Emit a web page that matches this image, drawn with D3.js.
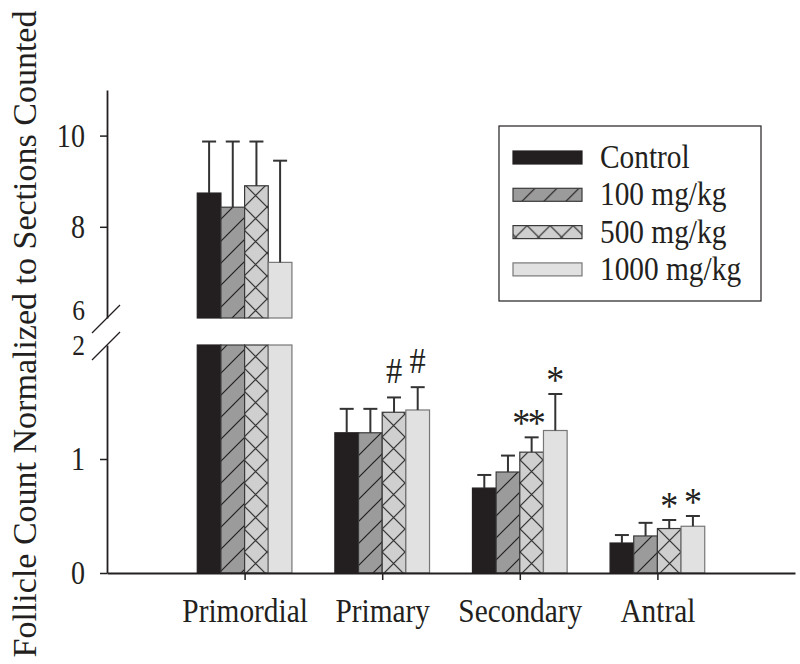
<!DOCTYPE html>
<html>
<head>
<meta charset="utf-8">
<script src="https://cdn.jsdelivr.net/npm/d3@7"></script>
<style>
  body { margin: 0; background: #fff; }
  svg text { font-family: "Liberation Serif", "Times New Roman", serif; fill: #231f20; }
</style>
</head>
<body>
<div id="chart"></div>
<script>
// follicle counts
const categories = ["Primordial", "Primary", "Secondary", "Antral"];
const seriesNames = ["Control", "100 mg/kg", "500 mg/kg", "1000 mg/kg"];
const control = [8.74, 1.23, 0.745, 0.263];
const dose100 = [8.43, 1.23, 0.886, 0.325];
const dose500 = [8.9, 1.41, 1.06, 0.39];
const dose1000 = [7.22, 1.43, 1.25, 0.41];
const controlErr = [1.13, 0.21, 0.115, 0.07];
const dose100Err = [1.44, 0.21, 0.144, 0.115];
const dose500Err = [0.97, 0.13, 0.13, 0.075];
const dose1000Err = [2.23, 0.2, 0.32, 0.09];
const lowTicks = [0, 1, 2];
const highTicks = [6, 8, 10];
// significance marks: [category index, series index, symbol]
const marks = [[1, 2, "#"], [1, 3, "#"], [2, 2, "**"], [2, 3, "*"], [3, 2, "*"], [3, 3, "*"]];

const values = [control, dose100, dose500, dose1000];
const errors = [controlErr, dose100Err, dose500Err, dose1000Err];

const width = 800, height = 664;
const svg = d3.select("#chart").append("svg")
  .attr("width", width)
  .attr("height", height);

const x = d3.scaleLinear().domain([0, 5]).range([107, 795]);
const yLow = d3.scaleLinear().domain([0, 2]).range([573, 345]);
const yHigh = d3.scaleLinear().domain([6, 11]).range([318, 90]);
const barW = x(0.172) - x(0);
const ink = "#231f20";

// patterns
const defs = svg.append("defs");
const p100 = defs.append("pattern")
  .attr("id", "hatch100")
  .attr("patternUnits", "userSpaceOnUse")
  .attr("width", 22).attr("height", 22);
p100.append("rect").attr("width", 22).attr("height", 22).attr("fill", "#9b9b9b");
p100.append("path")
  .attr("d", "M-2,24 L24,-2 M-13,13 L13,-13 M9,35 L35,9")
  .attr("stroke", ink).attr("stroke-width", 1.2);

const p500 = defs.append("pattern")
  .attr("id", "hatch500")
  .attr("patternUnits", "userSpaceOnUse")
  .attr("width", 23).attr("height", 23)
  .attr("x", x(1) - 0.5);
p500.append("rect").attr("width", 23).attr("height", 23).attr("fill", "#cfcfcf");
p500.append("path")
  .attr("d", "M0,0 L23,23 M23,0 L0,23")
  .attr("stroke", "#2a2a2a").attr("stroke-width", 1.2);

const fills = [ink, "url(#hatch100)", "url(#hatch500)", "#e1e1e1"];
const strokes = [ink, "#3a3a3a", "#3a3a3a", "#777"];

// bars
const bars = [];
values.forEach((vals, s) => {
  vals.forEach((v, c) => {
    bars.push({ s: s, c: c, v: v, e: errors[s][c] });
  });
});

const barX = d => x(d.c + 1) + (d.s - 2) * barW;

const gBars = svg.append("g");

// lower segment (0-2)
gBars.selectAll(".barLow")
  .data(bars)
  .enter()
  .append("rect")
  .attr("class", "barLow")
  .attr("x", barX)
  .attr("width", barW)
  .attr("y", d => yLow(Math.min(d.v, 2)))
  .attr("height", d => yLow(0) - yLow(Math.min(d.v, 2)))
  .attr("fill", d => fills[d.s])
  .attr("stroke", d => strokes[d.s])
  .attr("stroke-width", 1.2);

// upper segment (6-11)
gBars.selectAll(".barHigh")
  .data(bars.filter(d => d.v > 6))
  .enter()
  .append("rect")
  .attr("class", "barHigh")
  .attr("x", barX)
  .attr("width", barW)
  .attr("y", d => yHigh(d.v))
  .attr("height", d => yHigh(6) - yHigh(d.v))
  .attr("fill", d => fills[d.s])
  .attr("stroke", d => strokes[d.s])
  .attr("stroke-width", 1.2);

// error bars, upper half only
const yOf = v => v > 6 ? yHigh(v) : yLow(v);
const err = svg.append("g")
  .attr("stroke", "#333")
  .attr("stroke-width", 2);

err.selectAll(".errLine")
  .data(bars)
  .enter()
  .append("line")
  .attr("x1", d => barX(d) + barW / 2)
  .attr("x2", d => barX(d) + barW / 2)
  .attr("y1", d => yOf(d.v))
  .attr("y2", d => yOf(d.v + d.e));

err.selectAll(".errCap")
  .data(bars)
  .enter()
  .append("line")
  .attr("x1", d => barX(d) + barW / 2 - 7)
  .attr("x2", d => barX(d) + barW / 2 + 7)
  .attr("y1", d => yOf(d.v + d.e))
  .attr("y2", d => yOf(d.v + d.e));

// significance symbols
svg.selectAll(".sig")
  .data(marks)
  .enter()
  .append("text")
  .attr("class", "sig")
  .attr("text-anchor", "middle")
  .attr("dominant-baseline", "central")
  .style("font-size", d => d[2] === "#" ? "36px" : "40px")
  .style("letter-spacing", d => d[2] === "**" ? "-3px" : null)
  .attr("transform", d => {
    const s = d[1], c = d[0];
    const cx = x(c + 1) + (s - 2) * barW + barW / 2 - (d[2] === "**" ? 4 : 0);
    const cy = yOf(values[s][c] + errors[s][c]) - 27;
    return `translate(${cx},${cy}) scale(0.9,1)`;
  })
  .attr("dy", d => d[2] === "#" ? "0em" : "0.3em")
  .text(d => d[2]);

// axes
const styleAxis = g => {
  g.select(".domain").attr("stroke", ink).attr("stroke-width", 1.8);
  g.selectAll(".tick line").attr("stroke", ink).attr("stroke-width", 1.5);
  g.selectAll(".tick text")
    .style("font-size", "33px")
    .attr("fill", ink);
};

const axisHigh = svg.append("g")
  .attr("transform", `translate(${x(0)},0)`)
  .call(d3.axisLeft(yHigh).tickValues(highTicks).tickFormat(d3.format("d"))
    .tickSizeInner(7).tickSizeOuter(0).tickPadding(19))
  .call(styleAxis);

const axisLow = svg.append("g")
  .attr("transform", `translate(${x(0)},0)`)
  .call(d3.axisLeft(yLow).tickValues(lowTicks).tickFormat(d3.format("d"))
    .tickSizeInner(7).tickSizeOuter(0).tickPadding(19))
  .call(styleAxis);

[axisHigh, axisLow].forEach(g => {
  g.selectAll(".tick text").attr("transform", "scale(0.85,1)");
  g.selectAll(".tick").filter(d => d === 6 || d === 2).select("line").remove();
});
// the two labels at the break sit close together
axisLow.selectAll(".tick").filter(d => d === 2).select("text")
  .style("font-size", "30px").attr("dy", "0.32em");
axisHigh.selectAll(".tick").filter(d => d === 6).select("text")
  .style("font-size", "30px").attr("dy", "0.05em");

// break marks
svg.selectAll(".brk")
  .data([yHigh(6), yLow(2)])
  .enter()
  .append("line")
  .attr("class", "brk")
  .attr("x1", x(0) - 15).attr("y1", d => d + 15)
  .attr("x2", x(0) + 13).attr("y2", d => d - 13)
  .attr("stroke", ink)
  .attr("stroke-width", 1.3);

const axisX = svg.append("g")
  .attr("transform", `translate(0,${yLow(0)})`)
  .call(d3.axisBottom(x).tickValues([1, 2, 3, 4])
    .tickFormat(i => categories[i - 1])
    .tickSizeInner(7).tickSizeOuter(0).tickPadding(19))
  .call(styleAxis);
axisX.selectAll(".tick text").style("font-size", "33px").attr("transform", "scale(0.89,1)");

// y title
svg.append("text")
  .attr("transform", "translate(36,334) rotate(-90)")
  .attr("text-anchor", "middle")
  .style("font-size", "34px")
  .text("Follicle Count Normalized to Sections Counted");

// legend
const legend = svg.append("g");
legend.append("rect")
  .attr("x", 499).attr("y", 126)
  .attr("width", 262).attr("height", 175)
  .attr("fill", "#fff")
  .attr("stroke", ink)
  .attr("stroke-width", 1.2);

const items = legend.selectAll(".item")
  .data(seriesNames)
  .enter()
  .append("g")
  .attr("class", "item")
  .attr("transform", (d, i) => `translate(513,${151 + i * 37.3})`);

items.append("rect")
  .attr("width", 69)
  .attr("height", 13)
  .attr("fill", (d, i) => fills[i])
  .attr("stroke", (d, i) => strokes[i])
  .attr("stroke-width", 1.2);

items.append("text")
  .attr("transform", "translate(87,17) scale(0.89,1)")
  .style("font-size", "33px")
  .text(d => d);
</script>
</body>
</html>
